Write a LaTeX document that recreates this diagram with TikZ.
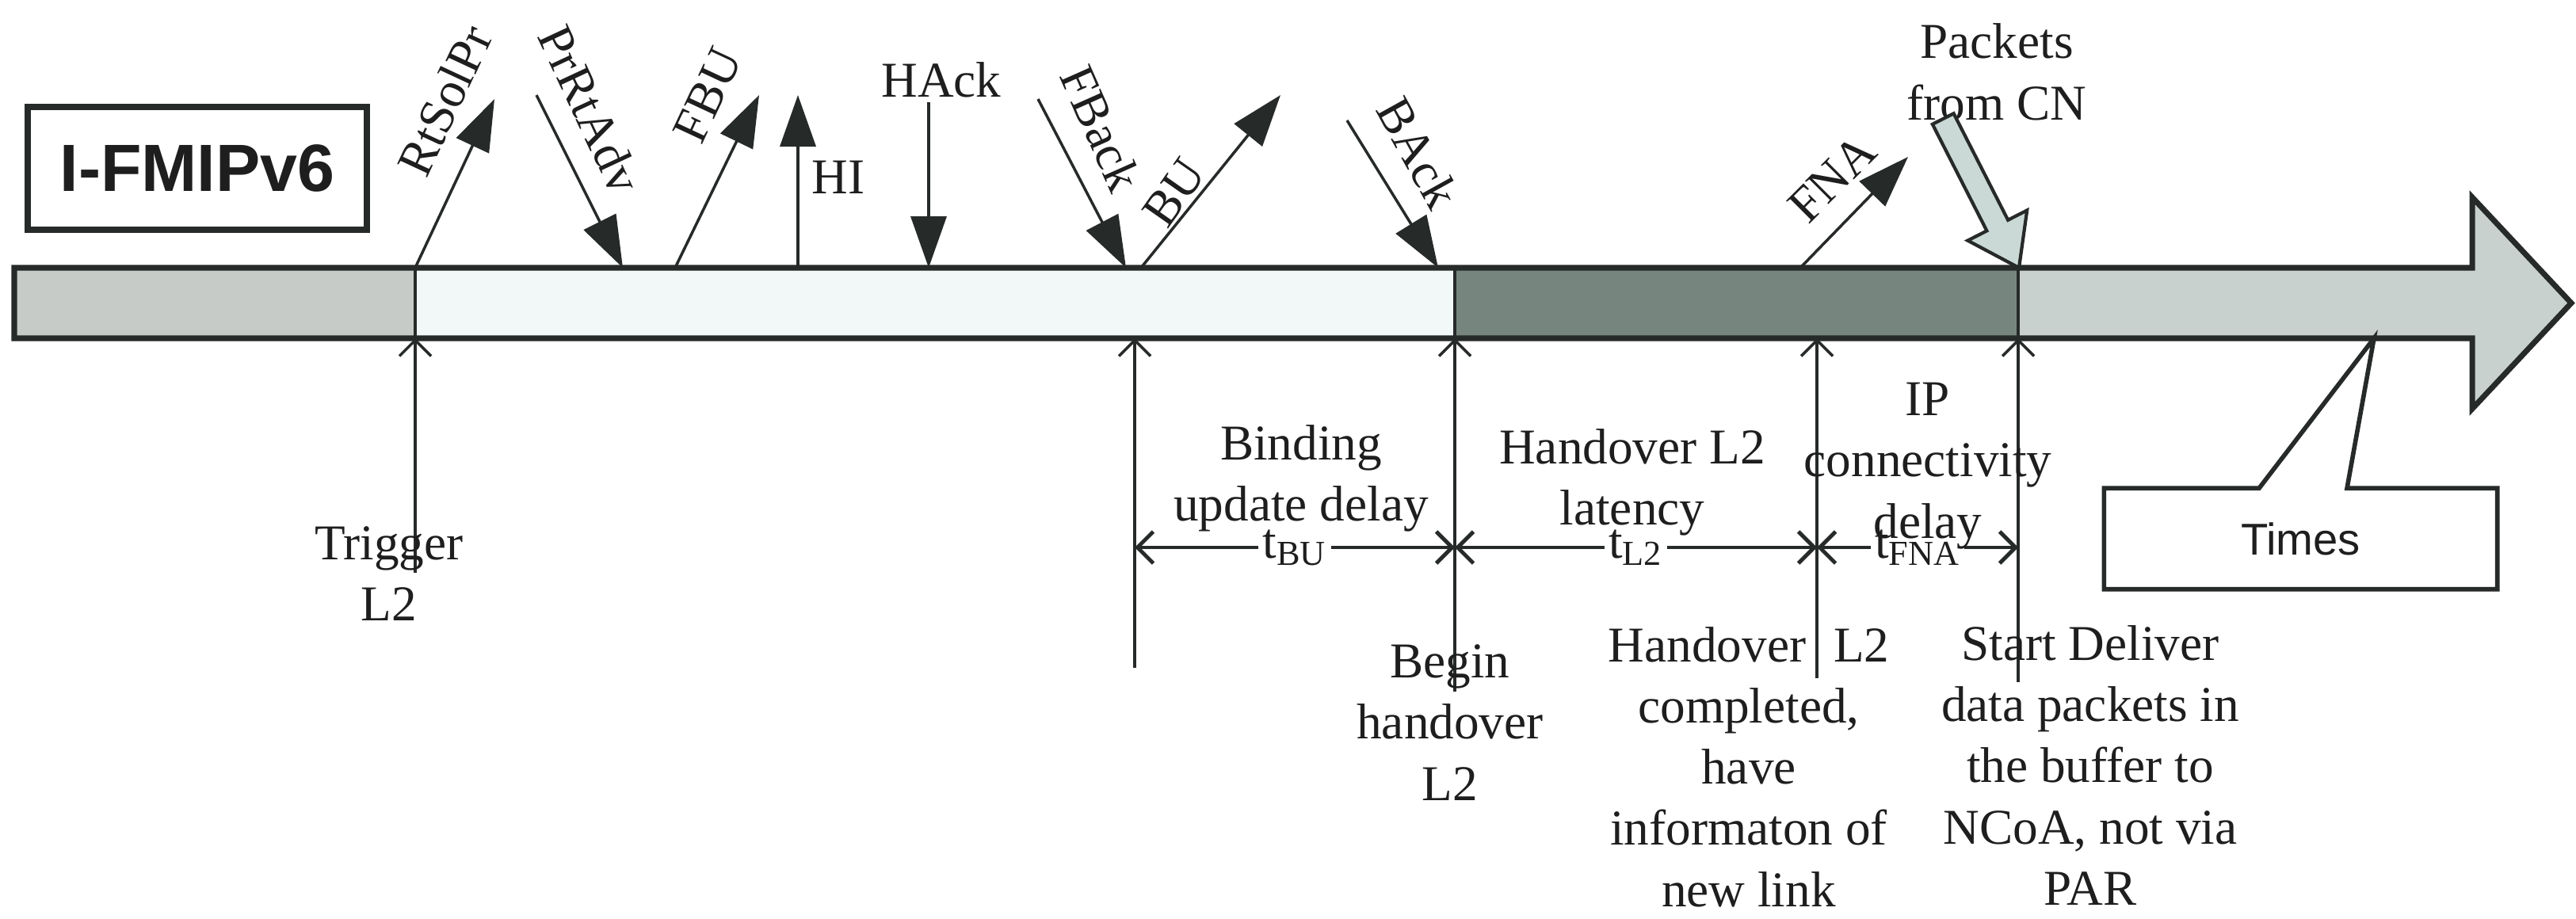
\documentclass[tikz,border=0pt]{standalone}
\usepackage{fontspec}
\setmainfont{Liberation Serif}
\newfontfamily\arialfont{Liberation Sans}
\usepackage{xcolor}
\definecolor{cLine}{HTML}{262A28}
\definecolor{cText}{HTML}{1E1E1E}
\definecolor{cBandA}{HTML}{C6CBC7}
\definecolor{cBandB}{HTML}{F2F7F7}
\definecolor{cBandC}{HTML}{77857F}
\definecolor{cBandD}{HTML}{C8D1CD}
\definecolor{cPkt}{HTML}{CAD9D5}
\usepackage{tikz}
\usetikzlibrary{arrows.meta,calc}
\newcommand{\tdelay}[1]{t\textsubscript{#1}}
\tikzset{
  band-edge/.style={draw=cLine,line width=2pt,line join=miter},
  box-title/.style={draw=cLine,line width=2pt,minimum width=4.28cm,
    minimum height=1.55cm,font=\arialfont\bfseries\fontsize{24}{28}\selectfont,text=cText},
  box-times/.style={minimum width=4.95cm,minimum height=1.26cm,
    font=\arialfont\fontsize{16}{19}\selectfont,text=cText},
  arrow-msg/.style={-{Triangle[length=6.5mm,width=4.5mm]},line width=1pt,draw=cLine},
  arrow-mark/.style={-{Straight Barb[length=2mm,width=4mm]},line width=1pt,draw=cLine},
  arrow-dim/.style={{Straight Barb[length=2mm,width=4mm]}-{Straight Barb[length=2mm,width=4mm]},
    line width=1.4pt,draw=cLine},
  arrow-pkt/.style={draw=cLine,line width=1.2pt,fill=cPkt,line join=miter},
  label-msg/.style={font=\fontsize{18}{22}\selectfont,text=cText,inner sep=1pt},
  label-note/.style={font=\fontsize{18}{22}\selectfont,text=cText,align=center,inner sep=1pt},
  label-dim/.style={font=\fontsize{18}{22}\selectfont,text=cText,fill=white,inner sep=1.5pt},
}
\begin{document}
\begin{tikzpicture}
  \useasboundingbox (0,0) rectangle (32.51,11.59);
  % time band
  \fill[cBandA] (0.18,7.32) rectangle (5.24,8.21);
  \fill[cBandB] (5.24,7.32) rectangle (18.36,8.21);
  \fill[cBandC] (18.36,7.32) rectangle (25.47,8.21);
  \fill[cBandD] (25.47,7.32) -- (25.47,8.21) -- (31.2,8.21) -- (31.2,9.1)
    -- (32.45,7.765) -- (31.2,6.43) -- (31.2,7.32) -- cycle;
  \draw[band-edge] (0.18,7.32) -- (0.18,8.21) -- (31.2,8.21) -- (31.2,9.1)
    -- (32.45,7.765) -- (31.2,6.43) -- (31.2,7.32) -- cycle;
  \foreach \x in {5.24,18.36,25.47}
    \draw[cLine,line width=1pt] (\x,7.32) -- (\x,8.21);
  \coordinate (bandlow) at (0,7.32);

  \node[box-title] (title) at (2.49,9.465) {I-FMIPv6};

  % signalling above the band
  \coordinate (rts0) at (5.24,8.21);    \coordinate (rts1) at (6.24,10.34);
  \coordinate (pra0) at (6.77,10.39);   \coordinate (pra1) at (7.86,8.21);
  \coordinate (fbu0) at (8.52,8.21);    \coordinate (fbu1) at (9.58,10.39);
  \coordinate (hi0) at (10.07,8.21);    \coordinate (hi1) at (10.07,10.39);
  \coordinate (hack0) at (11.72,10.30); \coordinate (hack1) at (11.72,8.21);
  \coordinate (fbk0) at (13.10,10.34);  \coordinate (fbk1) at (14.21,8.21);
  \coordinate (bu0) at (14.40,8.21);    \coordinate (bu1) at (16.16,10.39);
  \coordinate (bak0) at (17.00,10.07);  \coordinate (bak1) at (18.15,8.21);
  \coordinate (fna0) at (22.72,8.21);   \coordinate (fna1) at (24.08,9.61);
  \foreach \a/\b in {rts0/rts1,pra0/pra1,fbu0/fbu1,hi0/hi1,hack0/hack1,
      fbk0/fbk1,bu0/bu1,bak0/bak1,fna0/fna1}
    \draw[arrow-msg] (\a) -- (\b);

  \node[label-msg,rotate=65] (l-rts) at (5.61,10.32) {RtSolPr};
  \node[label-msg,rotate=-65] (l-pra) at (7.45,10.21) {PrRtAdv};
  \node[label-msg,rotate=65] (l-fbu) at (8.93,10.39) {FBU};
  \node[label-msg] (l-hi) at (10.58,9.35) {HI};
  \node[label-msg] (l-hack) at (11.88,10.58) {HAck};
  \node[label-msg,rotate=-66] (l-fbk) at (13.90,9.97) {FBack};
  \node[label-msg,rotate=55] (l-bu) at (14.82,9.16) {BU};
  \node[label-msg,rotate=-61] (l-bak) at (17.90,9.66) {BAck};
  \node[label-msg,rotate=45] (l-fna) at (23.12,9.34) {FNA};

  % packets from CN
  \node[label-note] (l-pkt) at (25.20,10.68) {Packets\\from CN};
  \coordinate (pkt1) at (25.48,8.21);
  \begin{scope}[shift={(pkt1)},rotate=117]
    \draw[arrow-pkt] (0,0) -- (0.6,0.42) -- (0.6,0.15) -- (2.11,0.15)
      -- (2.11,-0.15) -- (0.6,-0.15) -- (0.6,-0.42) -- cycle;
  \end{scope}

  % events below the band
  \coordinate (trig) at (5.24,4.36);
  \coordinate (bu) at (14.32,3.16);
  \coordinate (beg) at (18.36,2.86);
  \coordinate (done) at (22.93,3.03);
  \coordinate (deliv) at (25.47,2.98);
  \foreach \c in {trig,bu,beg,done,deliv}
    \draw[arrow-mark] (\c) -- (\c |- bandlow);

  \node[label-note] (l-trig) at (4.91,4.35) {Trigger\\L2};
  \node[label-note] (l-beg) at (18.30,2.47) {Begin\\handover\\L2};
  \node[label-note] (l-done) at (22.07,1.91)
    {Handover\hspace{0.55em}L2\\completed,\\have\\informaton of\\new link};
  \node[label-note] (l-deliv) at (26.38,1.93)
    {Start Deliver\\data packets in\\the buffer to\\NCoA, not via\\PAR};

  % delays
  \coordinate (dimy) at (0,4.68);
  \draw[arrow-dim] (bu |- dimy) -- node[label-dim] (t-bu) {\tdelay{BU}} (beg |- dimy);
  \draw[arrow-dim] (beg |- dimy) -- node[label-dim] (t-l2) {\tdelay{L2}} (done |- dimy);
  \draw[arrow-dim] (done |- dimy) -- node[label-dim] (t-fna) {\tdelay{FNA}} (deliv |- dimy);
  \node[label-note] (l-bud) at (16.42,5.55) {Binding\\update delay};
  \node[label-note] (l-lat) at (20.60,5.50) {Handover L2\\latency};
  \node[label-note] (l-ipd) at (24.33,5.71) {IP\\connectivity\\delay};

  % time callout
  \coordinate (tip-times) at (29.96,7.32);
  \node[box-times] (times) at (29.035,4.79) {Times};
  \draw[band-edge,line width=1.6pt] (times.north west) -- ([xshift=-0.525cm]times.north)
    -- (tip-times) -- ([xshift=0.585cm]times.north) -- (times.north east)
    -- (times.south east) -- (times.south west) -- cycle;
\end{tikzpicture}
\end{document}
